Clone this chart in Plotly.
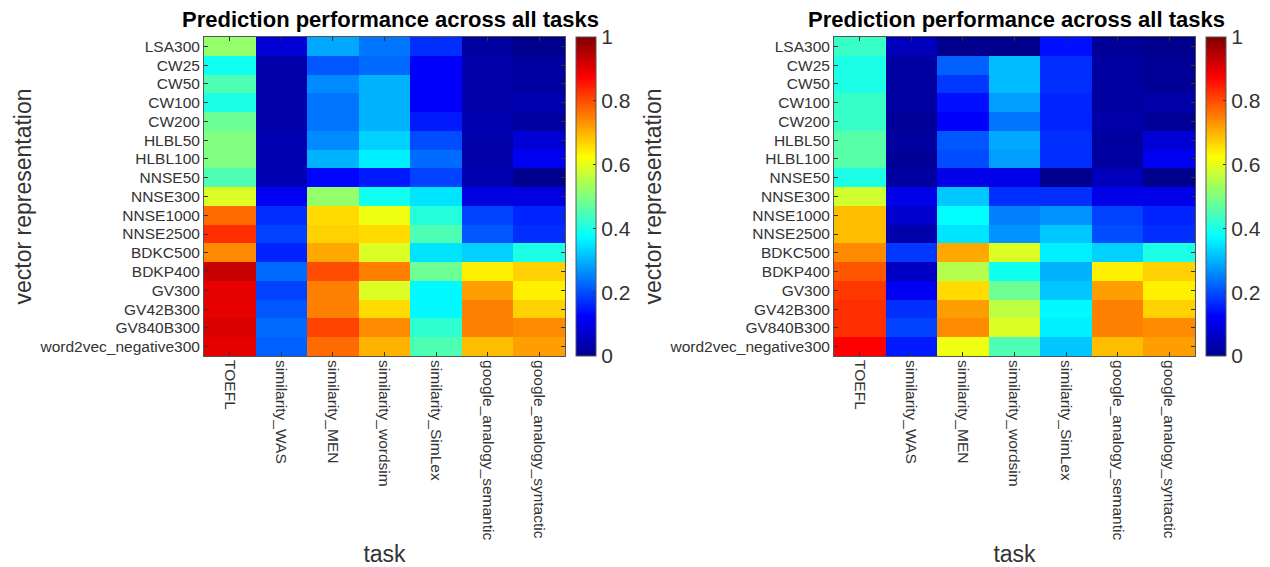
import plotly.graph_objects as go

representations = ["LSA300", "CW25", "CW50", "CW100", "CW200", "HLBL50", "HLBL100",
                   "NNSE50", "NNSE300", "NNSE1000", "NNSE2500", "BDKC500", "BDKP400",
                   "GV300", "GV42B300", "GV840B300", "word2vec_negative300"]
tasks = ["TOEFL", "similarity_WAS", "similarity_MEN", "similarity_wordsim",
         "similarity_SimLex", "google_analogy_semantic", "google_analogy_syntactic"]

# left panel: rows = representations, columns = tasks
scores_left = [
    [0.52, 0.08, 0.29, 0.24, 0.17, 0.02, 0.00],
    [0.39, 0.03, 0.21, 0.23, 0.12, 0.03, 0.02],
    [0.45, 0.03, 0.26, 0.30, 0.12, 0.03, 0.02],
    [0.40, 0.03, 0.24, 0.30, 0.12, 0.03, 0.04],
    [0.48, 0.03, 0.24, 0.30, 0.15, 0.04, 0.02],
    [0.50, 0.04, 0.26, 0.33, 0.20, 0.03, 0.08],
    [0.50, 0.04, 0.30, 0.36, 0.23, 0.03, 0.11],
    [0.45, 0.04, 0.13, 0.15, 0.19, 0.04, 0.00],
    [0.59, 0.11, 0.52, 0.39, 0.35, 0.09, 0.09],
    [0.77, 0.17, 0.66, 0.61, 0.41, 0.19, 0.16],
    [0.83, 0.19, 0.67, 0.66, 0.45, 0.21, 0.17],
    [0.74, 0.16, 0.71, 0.59, 0.35, 0.33, 0.40],
    [0.93, 0.23, 0.80, 0.75, 0.48, 0.64, 0.67],
    [0.90, 0.19, 0.75, 0.59, 0.37, 0.72, 0.64],
    [0.90, 0.21, 0.75, 0.66, 0.37, 0.75, 0.67],
    [0.91, 0.23, 0.81, 0.74, 0.42, 0.75, 0.74],
    [0.90, 0.22, 0.77, 0.70, 0.45, 0.69, 0.72],
]

# right panel
scores_right = [
    [0.43, 0.05, 0.00, 0.00, 0.14, 0.01, 0.00],
    [0.40, 0.02, 0.22, 0.31, 0.17, 0.02, 0.01],
    [0.40, 0.02, 0.18, 0.31, 0.17, 0.02, 0.01],
    [0.43, 0.02, 0.14, 0.28, 0.16, 0.02, 0.03],
    [0.43, 0.01, 0.12, 0.24, 0.16, 0.03, 0.01],
    [0.46, 0.02, 0.21, 0.29, 0.17, 0.02, 0.08],
    [0.46, 0.01, 0.20, 0.28, 0.17, 0.02, 0.11],
    [0.40, 0.02, 0.10, 0.10, 0.00, 0.05, 0.00],
    [0.58, 0.10, 0.32, 0.17, 0.17, 0.10, 0.10],
    [0.69, 0.07, 0.375, 0.25, 0.27, 0.19, 0.16],
    [0.69, 0.03, 0.35, 0.27, 0.32, 0.20, 0.17],
    [0.74, 0.18, 0.71, 0.59, 0.36, 0.33, 0.40],
    [0.79, 0.06, 0.55, 0.39, 0.30, 0.64, 0.67],
    [0.82, 0.11, 0.66, 0.48, 0.32, 0.72, 0.64],
    [0.83, 0.17, 0.72, 0.56, 0.37, 0.75, 0.67],
    [0.83, 0.19, 0.74, 0.59, 0.36, 0.75, 0.74],
    [0.875, 0.15, 0.61, 0.45, 0.32, 0.69, 0.72],
]

title_text = "Prediction performance across all tasks"
cbar_ticks = [0, 0.2, 0.4, 0.6, 0.8, 1]
cbar_labels = ["0", "0.2", "0.4", "0.6", "0.8", "1"]

jet = [
    [0.0, "rgb(0,0,143)"],
    [0.125, "rgb(0,0,255)"],
    [0.375, "rgb(0,255,255)"],
    [0.625, "rgb(255,255,0)"],
    [0.875, "rgb(255,0,0)"],
    [1.0, "rgb(128,0,0)"],
]

W, H = 1270, 567
FONT = "Liberation Sans, Arial, Helvetica, sans-serif"
TXT = "#333333"

top_px, bot_px = 37, 356
y0 = 1 - bot_px / H
y1 = 1 - top_px / H
panels = [
    dict(x0=204, x1=565, cb=576, data=scores_left, xa="x", ya="y"),
    dict(x0=834, x1=1195, cb=1206, data=scores_right, xa="x2", ya="y2"),
]

fig = go.Figure()
for i, p in enumerate(panels):
    fig.add_trace(go.Heatmap(
        z=p["data"], x=tasks, y=representations,
        colorscale=jet, zmin=0, zmax=1,
        xaxis=p["xa"], yaxis=p["ya"],
        colorbar=dict(
            x=p["cb"] / W, xanchor="left", xpad=0, ypad=0,
            y=(y0 + y1) / 2, yanchor="middle", len=y1 - y0, lenmode="fraction",
            thickness=20, thicknessmode="pixels",
            outlinewidth=1, outlinecolor="#555555",
            tickvals=cbar_ticks, ticktext=cbar_labels,
            ticks="inside", ticklen=3, tickcolor="#333333",
            tickfont=dict(family=FONT, size=21, color=TXT),
        ),
    ))

axis_common = dict(
    showline=True, linecolor="#555555", linewidth=1, mirror="ticks",
    ticks="inside", ticklen=4, tickcolor="#333333", showgrid=False, zeroline=False,
    tickfont=dict(family=FONT, size=15.5, color=TXT),
)

layout = dict(
    width=W, height=H, margin=dict(l=0, r=0, t=0, b=0),
    paper_bgcolor="white", plot_bgcolor="white", showlegend=False,
)
for i, p in enumerate(panels):
    sfx = "" if i == 0 else "2"
    layout["xaxis" + sfx] = dict(
        axis_common, domain=[p["x0"] / W, p["x1"] / W], anchor="y" + sfx,
        tickangle=90, tickmode="array", tickvals=tasks, ticktext=tasks,
        title=dict(text="task", font=dict(family=FONT, size=23, color=TXT), standoff=8),
    )
    layout["yaxis" + sfx] = dict(
        axis_common, domain=[y0, y1], anchor="x" + sfx, autorange="reversed",
        tickmode="array", tickvals=representations, ticktext=representations,
        title=dict(text="vector representation", font=dict(family=FONT, size=23, color=TXT), standoff=1),
    )
fig.update_layout(**layout)

annotations = []
for p, cx in zip(panels, [391, 1016]):
    annotations.append(dict(
        text="<b>" + title_text + "</b>", x=cx / W, y=1 - 19 / H,
        xref="paper", yref="paper", xanchor="center", yanchor="middle",
        showarrow=False, font=dict(family=FONT, size=22, color="black"),
    ))
fig.update_layout(annotations=annotations)

fig.write_html("out.html", config={"displayModeBar": False},
               post_script="document.body.style.margin='0';")
